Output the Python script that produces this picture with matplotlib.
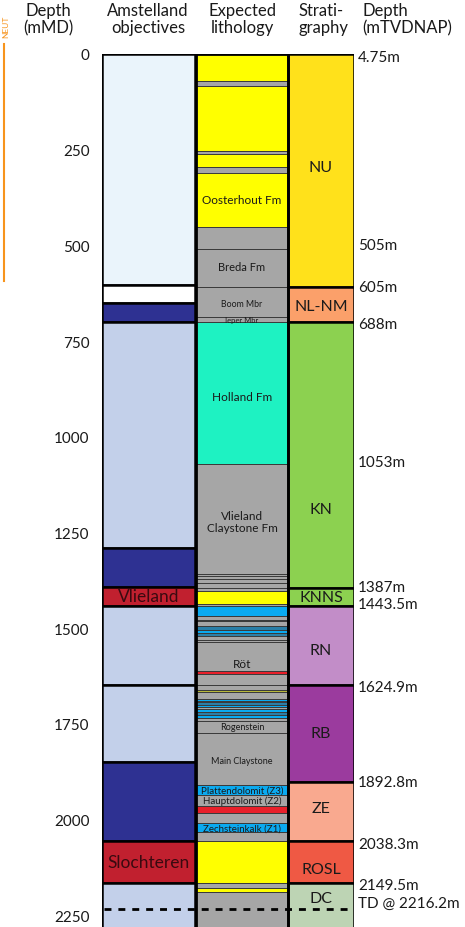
import matplotlib
matplotlib.use("Agg")
import matplotlib.pyplot as plt
from matplotlib.patches import Rectangle

plt.rcParams['font.family'] = ['Lato', 'DejaVu Sans']

# measured depth ticks (mMD)
depth_ticks = [0, 250, 500, 750, 1000, 1250, 1500, 1750, 2000, 2250]
td_depth = 2235  # dashed TD line
bottom_depth = 2281

# Amstelland objectives column: top, base, colour, label
obj_tops = [0, 603, 650, 700, 1290, 1392, 1441, 1648, 1850, 2057, 2167]
obj_bases = [603, 650, 700, 1290, 1392, 1441, 1648, 1850, 2057, 2167, 2300]
obj_colors = ['#eaf4fb', '#ffffff', '#2e3192', '#c3d0ea', '#2e3192', '#c1202f',
              '#c3d0ea', '#c3d0ea', '#2e3192', '#c1202f', '#c3d0ea']
obj_labels = ['', '', '', '', '', 'Vlieland', '', '', '', 'Slochteren', '']
obj_label_depth = [0, 0, 0, 0, 0, 1416, 0, 0, 0, 2112, 0]

# expected lithology column
Y, G, A, B, T, R, O = '#ffff00', '#a6a6a6', '#1ef2c2', '#0aaaf0', '#2a7fa8', '#e8202a', '#b8b83a'
lith_tops = [0, 70, 83, 253, 261, 295, 311, 452, 509, 608, 687, 700, 1070,
             1358, 1364, 1372, 1382, 1394, 1403, 1437,
             1441, 1468, 1478, 1482, 1495, 1505, 1512, 1520, 1530, 1537, 1613, 1621,
             1648, 1662, 1668, 1684, 1690, 1694, 1700, 1706, 1712, 1720, 1726, 1734,
             1744, 1775, 1909, 1935, 1966, 1983, 2010, 2034,
             2055, 2165, 2180, 2190]
lith_colors = [Y, G, Y, G, Y, G, Y, G, G, G, G, A, G,
               G, G, G, G, G, Y, G,
               B, G, B, G, T, B, T, G, G, G, R, G,
               G, O, G, B, G, T, B, G, B, T, B, G,
               G, G, B, G, R, G, B, G,
               Y, G, Y, G]
lith_bases = lith_tops[1:] + [2300]

lith_names = ['Oosterhout Fm', 'Breda Fm', 'Boom Mbr', 'Ieper Mbr', 'Holland Fm',
              'Vlieland\nClaystone Fm', 'Röt', 'Rogenstein', 'Main Claystone',
              'Plattendolomit (Z3)', 'Hauptdolomit (Z2)', 'Zechsteinkalk (Z1)']
lith_name_depth = [379, 556, 653, 693, 896, 1222, 1593, 1757, 1846, 1922, 1950, 2022]
lith_name_size = [8.5, 8, 6.3, 5.5, 8.5, 8.5, 8.5, 6.5, 6.5, 7, 7, 7]

# stratigraphy column
strat_names = ['NU', 'NL-NM', 'KN', 'KNNS', 'RN', 'RB', 'ZE', 'ROSL', 'DC']
strat_tops = [0, 608, 700, 1394, 1441, 1648, 1901, 2055, 2165]
strat_bases = strat_tops[1:] + [2300]
strat_colors = ['#ffe11b', '#fba06a', '#8cd150', '#8cd150', '#c28dc8',
                '#9b3b9e', '#f9a98f', '#ef5944', '#bdd4b4']
strat_label_depth = [295, 658, 1188, 1418, 1556, 1775, 1971, 2130, 2204]

# true vertical depth labels (mTVDNAP) and where they sit on the MD scale
tvd_labels = ['4.75m', '505m', '605m', '688m', '1053m', '1387m', '1443.5m',
              '1624.9m', '1892.8m', '2038.3m', '2149.5m', 'TD @ 2216.2m']
tvd_depth = [8, 499, 608, 705, 1065, 1392, 1436, 1653, 1901, 2063, 2172, 2219]

W, H = 465, 928
fig = plt.figure(figsize=(W / 100, H / 100), dpi=100)
ax = fig.add_axes([102 / W, 0, 252 / W, (H - 55) / H])
ax.set_xlim(0, 252)
ax.set_ylim(bottom_depth, 0)

obj_x = (0, 93)
lith_x = (94, 186)
strat_x = (186, 252)

# objectives
for top, base, c, lab, ld in zip(obj_tops, obj_bases, obj_colors, obj_labels, obj_label_depth):
    ax.add_patch(Rectangle((obj_x[0], top), obj_x[1] - obj_x[0], base - top,
                           facecolor=c, edgecolor='black', lw=1.8, zorder=2))
    if lab:
        ax.text(sum(obj_x) / 2, ld, lab, ha='center', va='center', fontsize=12.5,
                color='#3a0a10', zorder=5)

# lithology
for top, base, c in zip(lith_tops, lith_bases, lith_colors):
    ax.add_patch(Rectangle((lith_x[0], top), lith_x[1] - lith_x[0], base - top,
                           facecolor=c, edgecolor='#3a3a3a', lw=0.7, zorder=2))
ax.add_patch(Rectangle((lith_x[0], 0), lith_x[1] - lith_x[0], 2300,
                       facecolor='none', edgecolor='black', lw=2, zorder=4))
for name, d, fs in zip(lith_names, lith_name_depth, lith_name_size):
    ax.text(sum(lith_x) / 2, d, name, ha='center', va='center', fontsize=fs,
            color='#1a1a1a', linespacing=1.1, zorder=5)

# stratigraphy
for name, top, base, c, ld in zip(strat_names, strat_tops, strat_bases, strat_colors, strat_label_depth):
    ax.add_patch(Rectangle((strat_x[0], top), strat_x[1] - strat_x[0], base - top,
                           facecolor=c, edgecolor='black', lw=1.8, zorder=3))
    ax.text(sum(strat_x) / 2, ld, name, ha='center', va='center', fontsize=11.5,
            color='#1a1a1a', zorder=5)

# total depth
ax.hlines(td_depth, 2, 250, colors='black', lw=2, linestyles=(0, (2.5, 2.5)), zorder=6)

for lab, d in zip(tvd_labels, tvd_depth):
    ax.text(256, d, lab, ha='left', va='center', fontsize=11, color='#1a1a1a',
            clip_on=False)

ax.set_yticks(depth_ticks)
ax.set_yticklabels([str(t) for t in depth_ticks], fontsize=11, color='#1a1a1a')
ax.tick_params(axis='y', length=0, pad=9)
ax.set_xticks([])
for s in ax.spines.values():
    s.set_visible(False)

# column headers
hdr = dict(va='top', fontsize=12, color='#1a1a1a', linespacing=1.1)
fig.text(48 / W, 1 - 3 / H, 'Depth\n(mMD)', ha='center', **hdr)
fig.text(148 / W, 1 - 3 / H, 'Amstelland\nobjectives', ha='center', **hdr)
fig.text(242 / W, 1 - 3 / H, 'Expected\nlithology', ha='center', **hdr)
fig.text(298 / W, 1 - 3 / H, 'Strati-\ngraphy', ha='left', **hdr)
fig.text(362 / W, 1 - 3 / H, 'Depth\n(mTVDNAP)', ha='left', **hdr)

# orange marker on the left edge
fig.add_artist(plt.Line2D([3.5 / W, 3.5 / W], [1 - 45 / H, 1 - 282 / H],
                          color='#f7941d', lw=1.5))
fig.text(6 / W, 1 - 27 / H, 'NEUT', rotation=90, ha='center', va='center',
         fontsize=6, color='#f7941d')

fig.savefig('out.png', dpi=100)
